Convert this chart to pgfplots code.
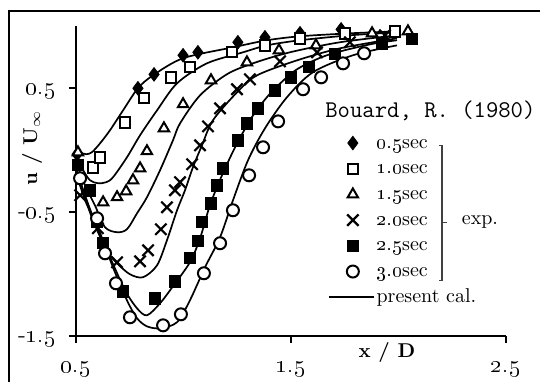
\documentclass[border=0pt]{standalone}
\usepackage{pgfplots}
\pgfplotsset{compat=1.18}
\usetikzlibrary{calc}
\begin{document}
\begin{tikzpicture}
\begin{axis}[
  x=107.5pt, y=62pt,
  xmin=0.5, xmax=2.5, ymin=-1.5, ymax=1.0,
  clip=false,
  axis lines=left,
  axis line style={-, line width=1pt},
  tick align=outside,
  major tick length=3.5pt,
  tick style={line width=1pt, black},
  xtick={0.5,1.5,2.5},
  xticklabels={\oldstylenums{0.5},\oldstylenums{1.5},\oldstylenums{2.5}},
  ytick={-1.5,-0.5,0.5},
  yticklabels={-\oldstylenums{1.5},-\oldstylenums{0.5},\oldstylenums{0.5}},
  ticklabel style={font=\fontsize{12}{14}\selectfont},
  xticklabel style={yshift=-6pt},
  yticklabel style={xshift=-3pt, yshift=-2pt},
  xlabel={\textbf{x / D}},
  ylabel={\textbf{u / U$_\infty$}},
  xlabel style={at={(axis description cs:0.723,-0.052)}, anchor=center},
  ylabel style={at={(axis description cs:-0.102,0.606)}, anchor=center},
  legend cell align=left,
  legend style={draw=none, fill=none, at={(axis description cs:0.586,0.658)}, anchor=north west,
    inner sep=0pt, outer sep=0pt, row sep=1.85pt, column sep=0pt,
    nodes={inner sep=1pt, text height=7pt, text depth=2pt}},
]
\coordinate (O) at (rel axis cs:0,0);
% calculated curves
\addplot[forget plot, black, line width=0.85pt, smooth] coordinates {
(0.500,0.014) (0.519,-0.018) (0.547,-0.034) (0.574,-0.018) (0.612,0.054) (0.658,0.159)
(0.719,0.320) (0.788,0.498) (0.858,0.602) (0.998,0.740) (1.230,0.828) (1.388,0.885)
(1.542,0.917) (1.774,0.941) (1.993,0.957)};
\addplot[forget plot, black, line width=0.85pt, smooth] coordinates {
(0.500,-0.067) (0.533,-0.163) (0.565,-0.244) (0.602,-0.268) (0.640,-0.260) (0.672,-0.220)
(0.737,-0.059) (0.798,0.119) (0.877,0.320) (0.970,0.538) (1.109,0.699) (1.277,0.788)
(1.388,0.844) (1.542,0.885) (1.774,0.925) (1.993,0.949)};
\addplot[forget plot, black, line width=0.85pt, smooth] coordinates {
(0.500,-0.099) (0.542,-0.285) (0.588,-0.446) (0.635,-0.623) (0.691,-0.663) (0.737,-0.639)
(0.784,-0.510) (0.830,-0.381) (0.891,-0.163) (0.951,0.078) (0.984,0.215) (1.077,0.441)
(1.202,0.611) (1.323,0.699) (1.495,0.788) (1.728,0.869) (1.993,0.925)};
\addplot[forget plot, black, line width=0.85pt, smooth] coordinates {
(0.500,-0.147) (0.542,-0.365) (0.588,-0.583) (0.635,-0.793) (0.691,-0.913) (0.751,-1.002)
(0.812,-1.026) (0.877,-0.930) (0.923,-0.728) (0.970,-0.486) (1.007,-0.325) (1.044,-0.139)
(1.086,0.038) (1.137,0.240) (1.249,0.465) (1.342,0.602) (1.528,0.723) (1.728,0.820) (1.993,0.901)};
\addplot[forget plot, black, line width=0.85pt, smooth] coordinates {
(0.500,-0.163) (0.542,-0.389) (0.588,-0.607) (0.658,-0.865) (0.728,-1.131) (0.784,-1.277)
(0.830,-1.333) (0.891,-1.236) (0.951,-1.099) (1.030,-0.905) (1.077,-0.712) (1.123,-0.446)
(1.179,-0.204) (1.240,0.022) (1.309,0.240) (1.365,0.377) (1.426,0.497) (1.528,0.651)
(1.667,0.764) (1.867,0.852) (1.993,0.885)};
\addplot[forget plot, black, line width=0.85pt, smooth] coordinates {
(0.500,-0.180) (0.542,-0.405) (0.598,-0.607) (0.672,-0.946) (0.737,-1.212) (0.784,-1.357)
(0.830,-1.422) (0.891,-1.438) (0.970,-1.389) (1.030,-1.212) (1.100,-0.946) (1.170,-0.704)
(1.230,-0.406) (1.300,-0.083) (1.379,0.175) (1.481,0.425) (1.602,0.627) (1.788,0.764) (1.993,0.844)};
% experiments
\addplot[only marks, mark=diamond*, mark size=3.4pt, mark options={fill=black, draw=black}] coordinates {
(0.505,-0.035) (0.788,0.498) (0.863,0.610) (0.998,0.764) (1.067,0.788) (1.253,0.869)
(1.379,0.909) (1.542,0.941) (1.733,0.973)};
\addlegendentry{\oldstylenums{0.5}sec}
\addplot[only marks, mark=square*, mark size=2.6pt, mark options={fill=white, draw=black, line width=1pt}] coordinates {
(0.579,-0.140) (0.612,-0.059) (0.728,0.223) (0.816,0.417) (0.942,0.586) (1.030,0.667)
(1.226,0.788) (1.379,0.844) (1.542,0.900) (1.751,0.941) (1.984,0.957)};
\addlegendentry{\oldstylenums{1.0}sec}
\addplot[only marks, mark=triangle*, mark size=3pt, mark options={fill=white, draw=black, line width=1pt}] coordinates {
(0.509,-0.019) (0.626,-0.422) (0.691,-0.381) (0.733,-0.333) (0.765,-0.244) (0.798,-0.148)
(0.830,-0.010) (0.909,0.175) (0.998,0.369) (1.128,0.562) (1.295,0.707) (1.444,0.804)
(1.616,0.844) (1.877,0.941) (2.044,0.957)};
\addlegendentry{\oldstylenums{1.5}sec}
\addplot[only marks, mark=x, mark size=4pt, mark options={draw=black, line width=1.1pt}] coordinates {
(0.519,-0.365) (0.602,-0.631) (0.691,-0.906) (0.798,-0.898) (0.835,-0.809) (0.895,-0.639)
(0.923,-0.462) (0.960,-0.325) (0.984,-0.260) (1.040,-0.115) (1.077,0.038) (1.114,0.191)
(1.170,0.336) (1.249,0.490) (1.309,0.570) (1.449,0.715) (1.621,0.788) (1.774,0.869) (1.937,0.925)};
\addlegendentry{\oldstylenums{2.0}sec}
\addplot[only marks, mark=square*, mark size=2.8pt, mark options={fill=black, draw=black}] coordinates {
(0.509,-0.123) (0.565,-0.325) (0.598,-0.583) (0.626,-0.752) (0.719,-1.140) (0.867,-1.196)
(0.960,-1.059) (1.030,-0.873) (1.067,-0.736) (1.086,-0.583) (1.128,-0.430) (1.156,-0.285)
(1.184,-0.148) (1.253,0.078) (1.295,0.215) (1.347,0.336) (1.426,0.481) (1.500,0.586)
(1.584,0.667) (1.705,0.772) (1.923,0.860) (2.063,0.893)};
\addlegendentry{\oldstylenums{2.5}sec}
\addplot[only marks, mark=*, mark size=3pt, mark options={fill=white, draw=black, line width=1pt}] coordinates {
(0.519,-0.228) (0.598,-0.551) (0.635,-0.833) (0.686,-1.075) (0.751,-1.349) (0.905,-1.414)
(0.988,-1.325) (1.095,-0.994) (1.170,-0.752) (1.230,-0.486) (1.305,-0.204) (1.370,0.022)
(1.440,0.231) (1.556,0.490) (1.640,0.586) (1.742,0.699) (1.840,0.780)};
\addlegendentry{\oldstylenums{3.0}sec}
\addlegendimage{black, line width=0.8pt, legend image code/.code={\draw[black, line width=0.8pt] (-3.5pt,0pt) -- (19pt,0pt);}}
\addlegendentry{present cal.}
% annotations
\node[anchor=base west, font=\fontsize{12}{14}\ttfamily, inner sep=0pt] at (axis cs:1.658,0.264) {Bouard,~R.~(1980)};
\draw[line width=0.6pt, black!75] (axis cs:2.188,0.038) -- (axis cs:2.202,0.038) -- (axis cs:2.202,-1.051) -- (axis cs:2.188,-1.051);
\draw[line width=0.6pt, black!75] (axis cs:2.202,-0.583) -- (axis cs:2.226,-0.583);
\node[anchor=center, inner sep=0pt] at (axis cs:2.379,-0.583) {exp.};
\end{axis}
\draw[line width=1pt] ($(O)+(-33.5pt,-40pt)$) rectangle ($(O)+(250pt,162.5pt)$);
\pgfresetboundingbox
\useasboundingbox ($(O)+(-38pt,-22.5pt)$) rectangle ++(270pt,190.5pt);
\end{tikzpicture}
\end{document}
